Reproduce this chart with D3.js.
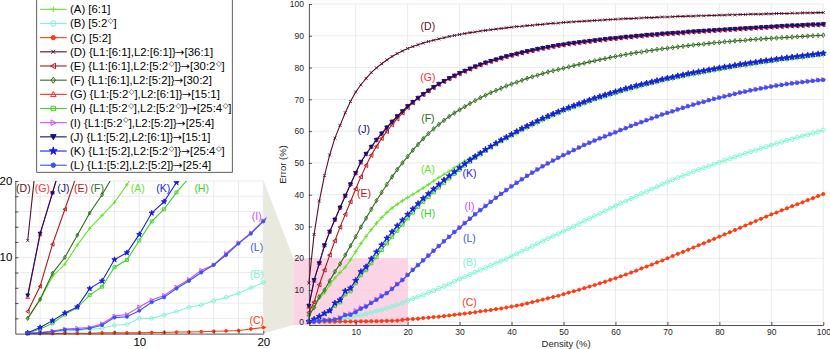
<!DOCTYPE html>
<html><head><meta charset="utf-8">
<script src="https://cdn.jsdelivr.net/npm/d3@7"></script>
<style>body{margin:0;background:#fff}svg{display:block}text{font-family:"Liberation Sans",Arial,Helvetica,sans-serif}</style>
</head><body><svg id="c" width="830" height="349"></svg>
<script>
// ---------- data ----------
const density = d3.range(1, 101);
const xTicksMain = [10,20,30,40,50,60,70,80,90,100];
const yTicksMain = [0,10,20,30,40,50,60,70,80,90,100];
const insetTicks = [2,4,6,8,10,12,14,16,18,20];
const insetTickLabels = [10,20];

const valsA = [2.0,4.4,7.5,9.1,11.6,13.8,15.5,17.2,19.5,22.1,24.6,26.9,29.0,31.0,32.8,34.4,35.8,37.0,38.1,39.1,
40.1,41.1,42.1,43.2,44.3,45.4,46.4,47.4,48.5,49.6,50.6,51.5,52.4,53.3,54.1,55.0,55.8,56.7,57.5,58.4,
59.2,60.1,60.9,61.7,62.5,63.3,64.0,64.7,65.4,66.1,66.7,67.3,67.9,68.5,69.1,69.7,70.2,70.7,71.2,71.7,
72.2,72.7,73.1,73.6,74.0,74.4,74.8,75.2,75.6,76.0,76.3,76.7,77.0,77.4,77.7,78.0,78.3,78.6,78.9,79.2,
79.5,79.7,80.0,80.3,80.5,80.8,81.0,81.3,81.5,81.7,82.0,82.2,82.4,82.6,82.8,83.0,83.2,83.4,83.6,83.8];
const valsB = [0.0,0.1,0.2,0.3,0.4,0.55,0.7,1.1,1.2,2.0,2.0,2.45,2.9,3.45,3.75,4.3,4.75,5.3,6.0,6.7,
7.3,7.9,8.5,9.2,9.8,10.5,11.2,11.9,12.7,13.5,14.2,14.9,15.6,16.3,17.0,17.7,18.4,19.1,19.8,20.6,
21.4,22.2,23.0,23.8,24.6,25.4,26.2,27.0,27.7,28.5,29.3,30.1,30.9,31.7,32.5,33.3,34.1,34.9,35.7,36.5,
37.3,38.0,38.8,39.5,40.3,41.0,41.8,42.5,43.3,44.0,44.7,45.3,46.0,46.6,47.3,47.9,48.5,49.0,49.6,50.2,
50.8,51.3,51.9,52.4,53.0,53.5,54.0,54.6,55.1,55.6,56.1,56.6,57.1,57.5,58.0,58.5,58.9,59.4,59.8,60.3];
const valsC = [0.0,0.0,0.0,0.05,0.05,0.05,0.1,0.1,0.1,0.1,0.15,0.15,0.2,0.2,0.25,0.3,0.35,0.4,0.6,0.8,
0.9,1.0,1.2,1.3,1.5,1.6,1.8,2.0,2.2,2.4,2.6,2.8,3.0,3.3,3.5,3.7,4.0,4.2,4.5,4.8,
5.1,5.4,5.8,6.2,6.6,7.0,7.4,7.8,8.2,8.7,9.2,9.6,10.1,10.6,11.1,11.6,12.1,12.6,13.2,13.7,
14.3,14.9,15.5,16.1,16.8,17.4,18.0,18.7,19.3,20.0,20.7,21.4,22.0,22.7,23.4,24.1,24.7,25.4,26.1,26.8,
27.5,28.2,28.9,29.6,30.3,31.0,31.7,32.4,33.1,33.8,34.4,35.1,35.7,36.4,37.0,37.6,38.3,38.9,39.6,40.2];
const valsD = [12.2,27.5,38.0,46.0,52.5,57.8,61.8,65.8,69.3,72.3,74.6,76.6,78.4,79.9,81.2,82.4,83.5,84.4,85.2,86.0,
86.6,87.2,87.7,88.2,88.6,89.0,89.4,89.8,90.1,90.4,90.7,91.0,91.2,91.5,91.7,91.9,92.1,92.3,92.5,92.7,
92.9,93.0,93.2,93.3,93.5,93.6,93.8,93.9,94.0,94.2,94.3,94.4,94.5,94.6,94.7,94.8,94.9,95.0,95.1,95.2,
95.3,95.4,95.4,95.5,95.6,95.7,95.7,95.8,95.9,95.9,96.0,96.1,96.1,96.2,96.2,96.3,96.3,96.4,96.4,96.5,
96.5,96.6,96.6,96.7,96.7,96.8,96.8,96.8,96.9,96.9,97.0,97.0,97.0,97.1,97.1,97.2,97.2,97.2,97.3,97.3];
const valsE = [2.9,6.2,11.7,16.3,21.0,25.5,29.8,33.8,37.8,41.8,45.6,49.2,52.4,55.2,57.7,59.9,62.0,63.9,65.7,67.4,
68.9,70.3,71.5,72.6,73.7,74.7,75.6,76.5,77.3,78.1,78.8,79.5,80.2,80.8,81.4,81.9,82.4,82.9,83.4,83.8,
84.2,84.6,85.0,85.3,85.7,86.0,86.3,86.6,86.9,87.1,87.4,87.6,87.8,88.0,88.2,88.4,88.6,88.8,89.0,89.1,
89.3,89.5,89.6,89.8,89.9,90.1,90.2,90.3,90.5,90.6,90.7,90.8,90.9,91.1,91.2,91.3,91.4,91.5,91.6,91.7,
91.8,91.9,92.0,92.1,92.2,92.3,92.4,92.5,92.6,92.7,92.8,92.9,93.0,93.1,93.1,93.2,93.3,93.4,93.4,93.5];
const valsF = [2.0,4.5,7.9,10.0,12.9,15.8,18.2,21.0,23.9,26.8,29.8,32.6,35.4,38.1,40.7,43.2,45.6,47.9,50.0,52.0,
54.0,55.8,57.6,59.2,60.7,62.1,63.4,64.6,65.7,66.7,67.7,68.7,69.6,70.5,71.3,72.1,72.8,73.5,74.2,74.8,
75.4,76.0,76.6,77.1,77.6,78.1,78.6,79.0,79.4,79.8,80.2,80.6,81.0,81.4,81.8,82.1,82.5,82.8,83.2,83.5,
83.8,84.1,84.4,84.7,84.9,85.2,85.4,85.7,85.9,86.1,86.3,86.5,86.7,86.9,87.1,87.3,87.4,87.6,87.8,87.9,
88.1,88.2,88.4,88.5,88.6,88.8,88.9,89.0,89.1,89.2,89.3,89.4,89.5,89.6,89.7,89.8,89.9,90.0,90.1,90.2];
const valsG = [4.8,13.0,18.5,24.1,28.4,32.2,36.0,39.7,43.3,46.8,50.2,52.8,55.1,57.3,59.3,61.2,63.0,64.7,66.3,67.9,
69.2,70.5,71.7,72.8,73.9,74.9,75.8,76.7,77.5,78.3,79.0,79.7,80.4,81.0,81.6,82.1,82.6,83.1,83.6,84.0,
84.4,84.8,85.2,85.5,85.9,86.2,86.5,86.8,87.1,87.3,87.6,87.8,88.0,88.2,88.4,88.6,88.8,89.0,89.2,89.3,
89.5,89.7,89.8,90.0,90.1,90.3,90.4,90.5,90.7,90.8,90.9,91.0,91.1,91.3,91.4,91.5,91.6,91.7,91.8,91.9,
92.0,92.1,92.2,92.3,92.4,92.5,92.6,92.7,92.8,92.9,93.0,93.1,93.2,93.3,93.3,93.4,93.5,93.6,93.6,93.7];
const valsH = [0.05,0.6,1.35,2.5,3.4,5.05,6.15,8.7,9.65,12.2,14.7,16.3,18.5,20.4,22.6,24.7,26.8,28.7,30.6,32.6,
34.4,36.2,37.8,39.3,40.8,42.3,43.7,45.2,46.6,47.9,49.2,50.4,51.6,52.7,53.8,54.9,55.9,56.9,57.9,58.8,
59.8,60.7,61.5,62.3,63.1,63.9,64.6,65.3,66.0,66.7,67.3,67.9,68.5,69.1,69.7,70.3,70.8,71.3,71.8,72.3,
72.8,73.3,73.7,74.2,74.6,75.0,75.4,75.8,76.2,76.6,76.9,77.3,77.6,78.0,78.3,78.6,78.9,79.2,79.5,79.8,
80.1,80.3,80.6,80.9,81.1,81.4,81.6,81.9,82.1,82.3,82.6,82.8,83.0,83.2,83.4,83.6,83.8,84.0,84.2,84.4];
const valsI = [0.05,0.15,0.35,0.6,0.7,0.8,1.3,2.3,2.5,3.5,4.4,5.0,6.1,7.1,8.3,9.0,10.5,11.9,13.2,14.8,
16.4,17.9,19.4,20.9,22.4,23.9,25.4,26.8,28.3,29.7,31.1,32.5,33.9,35.2,36.5,37.8,39.1,40.3,41.5,42.7,
43.8,44.9,46.0,47.0,48.0,49.0,49.9,50.8,51.7,52.5,53.3,54.1,54.9,55.7,56.4,57.1,57.8,58.4,59.1,59.7,
60.4,61.0,61.7,62.3,62.9,63.5,64.1,64.7,65.3,65.8,66.3,66.9,67.4,67.9,68.4,68.9,69.3,69.8,70.2,70.6,
71.0,71.4,71.8,72.2,72.5,72.9,73.2,73.5,73.8,74.1,74.4,74.6,74.9,75.1,75.3,75.5,75.7,75.9,76.1,76.2];
const valsJ = [5.0,13.1,18.4,24.0,28.3,32.1,35.9,39.6,43.2,46.8,50.3,52.8,55.0,57.2,59.2,61.1,62.9,64.6,66.2,67.8,
69.1,70.4,71.6,72.7,73.8,74.8,75.7,76.6,77.4,78.2,78.9,79.6,80.3,80.9,81.5,82.0,82.5,83.0,83.5,83.9,
84.3,84.7,85.1,85.4,85.8,86.1,86.4,86.7,87.0,87.2,87.5,87.7,87.9,88.1,88.3,88.5,88.7,88.9,89.1,89.2,
89.4,89.6,89.7,89.9,90.0,90.2,90.3,90.4,90.6,90.7,90.8,90.9,91.0,91.2,91.3,91.4,91.5,91.6,91.7,91.8,
91.9,92.0,92.1,92.2,92.3,92.4,92.5,92.6,92.7,92.8,92.9,93.0,93.1,93.2,93.2,93.3,93.4,93.5,93.5,93.6];
const valsK = [0.1,0.8,1.7,2.7,3.5,5.9,6.9,9.7,10.6,13.0,15.8,17.3,19.8,22.0,24.2,26.3,28.3,30.2,32.0,33.8,
35.5,37.2,38.8,40.3,41.8,43.2,44.6,45.9,47.2,48.5,49.7,50.9,52.0,53.1,54.2,55.2,56.2,57.2,58.1,59.0,
59.9,60.8,61.6,62.4,63.2,64.0,64.7,65.4,66.1,66.8,67.4,68.0,68.6,69.2,69.8,70.4,70.9,71.4,71.9,72.4,
72.9,73.4,73.8,74.3,74.7,75.1,75.5,75.9,76.3,76.7,77.0,77.4,77.7,78.1,78.4,78.7,79.0,79.3,79.6,79.9,
80.2,80.4,80.7,81.0,81.2,81.5,81.7,82.0,82.2,82.4,82.7,82.9,83.1,83.3,83.5,83.7,83.9,84.1,84.3,84.5];
const valsL = [0.05,0.1,0.25,0.5,0.5,0.7,1.1,2.1,2.2,3.0,4.1,4.75,5.9,6.9,8.0,9.0,10.3,11.8,13.1,14.7,
16.3,17.8,19.3,20.8,22.3,23.8,25.3,26.7,28.2,29.6,31.0,32.4,33.8,35.1,36.4,37.7,39.0,40.2,41.4,42.6,
43.7,44.8,45.9,46.9,47.9,48.9,49.8,50.7,51.6,52.4,53.2,54.0,54.8,55.6,56.3,57.0,57.7,58.3,59.0,59.6,
60.3,60.9,61.6,62.2,62.8,63.4,64.0,64.6,65.2,65.7,66.2,66.8,67.3,67.8,68.3,68.8,69.2,69.7,70.1,70.5,
70.9,71.3,71.7,72.1,72.4,72.8,73.1,73.4,73.7,74.0,74.3,74.5,74.8,75.0,75.2,75.4,75.6,75.8,76.0,76.1];

const seriesKeys = ["A","B","C","D","E","F","G","H","I","J","K","L"];
const seriesVals = [valsA,valsB,valsC,valsD,valsE,valsF,valsG,valsH,valsI,valsJ,valsK,valsL];
const seriesColors = ["#66e22e","#7ff5d6","#ff3a10","#5b0f22","#b3171c","#2f6b1c","#ff2b2b","#3cd41e","#c84cff","#111177","#1a1af0","#3a52f0"];
const seriesMarkers = ["plus","circle","dot","x","tleft","diamond","tup","square","tright","tdown","star","fcircle"];
const legendLabels = [
 "(A) [6:1]",
 "(B) [5:2◇]",
 "(C) [5:2]",
 "(D) {L1:[6:1],L2:[6:1]}→[36:1]",
 "(E) {L1:[6:1],L2:[5:2◇]}→[30:2◇]",
 "(F) {L1:[6:1],L2:[5:2]}→[30:2]",
 "(G) {L1:[5:2◇],L2:[6:1]}→[15:1]",
 "(H) {L1:[5:2◇],L2:[5:2◇]}→[25:4◇]",
 "(I) {L1:[5:2◇],L2:[5:2]}→[25:4]",
 "(J) {L1:[5:2],L2:[6:1]}→[15:1]",
 "(K) {L1:[5:2],L2:[5:2◇]}→[25:4◇]",
 "(L) {L1:[5:2],L2:[5:2]}→[25:4]"
];
// annotation anchor points (data coordinates)
const mainLabelPos = {D:[23.9,92.9],G:[23.9,77.1],J:[11.6,60.6],F:[23.9,64.0],A:[23.9,48.0],K:[31.9,46.7],
  E:[11.6,40.4],H:[23.9,34.1],I:[31.9,36.3],L:[31.9,26.2],B:[31.9,18.8],C:[31.9,6.2]};
const insetLabelPos = {D:[0.65,19.05],G:[2.18,19.05],J:[3.87,19.05],E:[5.3,19.05],F:[6.61,19.05],A:[9.87,19.1],
  K:[11.94,19.1],H:[15.03,19.1],I:[19.47,15.4],L:[19.47,11.26],B:[19.47,7.8],C:[19.47,1.7]};

// ---------- drawing ----------
const svg = d3.select("#c");
const gridCol = "#e6e6e6", axisCol = "#262626";

function markerPath(type, s){
  switch(type){
    case "plus": return `M${-s},0H${s}M0,${-s}V${s}`;
    case "x": return `M${-s},${-s}L${s},${s}M${-s},${s}L${s},${-s}`;
    case "circle": case "fcircle": case "dot": return d3.symbol(d3.symbolCircle, Math.PI*s*s)();
    case "tup": return `M0,${-s}L${s},${s*0.8}L${-s},${s*0.8}Z`;
    case "tdown": return `M0,${s}L${s},${-s*0.8}L${-s},${-s*0.8}Z`;
    case "tleft": return `M${-s},0L${s*0.8},${-s}L${s*0.8},${s}Z`;
    case "tright": return `M${s},0L${-s*0.8},${-s}L${-s*0.8},${s}Z`;
    case "diamond": return `M0,${-s*1.1}L${s*0.75},0L0,${s*1.1}L${-s*0.75},0Z`;
    case "square": return `M${-s*0.8},${-s*0.8}h${1.6*s}v${1.6*s}h${-1.6*s}Z`;
    case "star": return d3.symbol(d3.symbolStar, s*s*2.4)();
  }
}
function markerFill(type, color){
  return (type==="dot"||type==="fcircle"||type==="star"||type==="tdown") ? color : "none";
}
function markerSize(type, base){
  if (type==="x") return base*0.7;
  if (type==="dot") return base*0.75;
  if (type==="fcircle") return base*0.8;
  return base;
}

// ===== main chart =====
const xMain = d3.scaleLinear().domain([1,100]).range([308.9,823.3]);
const yMain = d3.scaleLinear().domain([-1,100]).range([325,4]);
const main = svg.append("g");
main.selectAll("line.vg").data(xTicksMain).join("line")
  .attr("x1",d=>xMain(d)).attr("x2",d=>xMain(d)).attr("y1",yMain(-1)).attr("y2",yMain(100))
  .attr("stroke",gridCol).attr("stroke-width",0.8);
main.selectAll("line.hg").data(yTicksMain).join("line")
  .attr("x1",xMain(1)).attr("x2",xMain(100)).attr("y1",d=>yMain(d)).attr("y2",d=>yMain(d))
  .attr("stroke",gridCol).attr("stroke-width",0.8);

// pink zoom region
main.append("rect").attr("x",xMain(-2)).attr("y",yMain(20))
  .attr("width",xMain(20)-xMain(-2)).attr("height",yMain(-1)-yMain(20))
  .attr("fill","#f9c6dd").attr("opacity",0.75);

const lineMain = d3.line().x((d,i)=>xMain(density[i])).y(d=>yMain(d));
seriesVals.forEach((vals,k)=>{
  const col = seriesColors[k], mk = seriesMarkers[k];
  main.append("path").attr("d",lineMain(vals)).attr("fill","none").attr("stroke",col).attr("stroke-width",1.1);
  const p = markerPath(mk, markerSize(mk,2.1));
  main.append("g").selectAll("path").data(vals).join("path")
    .attr("d",p).attr("transform",(d,i)=>`translate(${xMain(density[i])},${yMain(d)})`)
    .attr("fill",markerFill(mk,col)).attr("stroke",col).attr("stroke-width",0.9);
});

const axB = main.append("g").attr("transform",`translate(0,${yMain(-1)})`)
  .call(d3.axisBottom(xMain).tickValues(xTicksMain).tickSizeInner(-3).tickSizeOuter(0).tickPadding(4));
const axL = main.append("g").attr("transform",`translate(${xMain(1)},0)`)
  .call(d3.axisLeft(yMain).tickValues(yTicksMain).tickSizeInner(-3).tickSizeOuter(0).tickPadding(5));
[axB,axL].forEach(a=>{
  a.select(".domain").attr("stroke",axisCol).attr("stroke-width",0.8);
  a.selectAll(".tick line").attr("stroke",axisCol).attr("stroke-width",0.8);
  a.selectAll(".tick text").attr("fill",axisCol).style("font-size","8.5px").style("font-family","'Liberation Sans',Arial,sans-serif");
});
main.append("text").attr("x",(xMain(1)+xMain(100))/2).attr("y",346.5).attr("text-anchor","middle")
  .attr("fill",axisCol).style("font-size","9.5px").text("Density (%)");
main.append("text").attr("transform",`translate(286,${(yMain(-1)+yMain(100))/2}) rotate(-90)`)
  .attr("text-anchor","middle").attr("fill",axisCol).style("font-size","9.5px").text("Error (%)");

seriesKeys.forEach((key,k)=>{
  const pos = mainLabelPos[key];
  main.append("text").attr("x",xMain(pos[0])).attr("y",yMain(pos[1])).attr("dy","0.36em")
    .attr("text-anchor","middle").attr("fill",seriesColors[k]).style("font-size","10.5px").text(`(${key})`);
});

// ===== inset =====
const xIn = d3.scaleLinear().domain([0,20]).range([15.3,263.3]);
const yIn = d3.scaleLinear().domain([0,20]).range([333.6,181]);

// connector (trapezoid) from inset to zoom region
svg.insert("path","g").attr("d",
  `M${xIn(20)},${yIn(20)-1}L${xMain(-2)},${yMain(20)}L${xMain(-2)},${yMain(-1)}L${xIn(20)},${yIn(0)}Z`)
  .attr("fill","#e9e9de");

const inset = svg.append("g");
inset.append("rect").attr("x",xIn(0)).attr("y",yIn(20)).attr("width",xIn(20)-xIn(0)).attr("height",yIn(0)-yIn(20)).attr("fill","#fff");
inset.selectAll("line.vg").data(insetTicks).join("line")
  .attr("x1",d=>xIn(d)).attr("x2",d=>xIn(d)).attr("y1",yIn(0)).attr("y2",yIn(20))
  .attr("stroke",gridCol).attr("stroke-width",0.8);
inset.selectAll("line.hg").data(insetTicks).join("line")
  .attr("x1",xIn(0)).attr("x2",xIn(20)).attr("y1",d=>yIn(d)).attr("y2",d=>yIn(d))
  .attr("stroke",gridCol).attr("stroke-width",0.8);
svg.append("clipPath").attr("id","inclip").append("rect")
  .attr("x",xIn(0)).attr("y",yIn(20)).attr("width",xIn(20)-xIn(0)+3).attr("height",yIn(0)-yIn(20)+3);
const inPlot = inset.append("g").attr("clip-path","url(#inclip)");
const lineIn = d3.line().x((d,i)=>xIn(density[i])).y(d=>yIn(d));
seriesVals.forEach((vals,k)=>{
  const col = seriesColors[k], mk = seriesMarkers[k];
  const sub = vals.slice(0,21);
  inPlot.append("path").attr("d",lineIn(sub)).attr("fill","none").attr("stroke",col).attr("stroke-width",1.1);
  const p = markerPath(mk, markerSize(mk,1.9));
  inPlot.append("g").selectAll("path").data(sub.map((v,i)=>[density[i],v]).filter(d=>d[1]<=20 && d[0]<=20)).join("path")
    .attr("d",p).attr("transform",d=>`translate(${xIn(d[0])},${yIn(d[1])})`)
    .attr("fill",markerFill(mk,col)).attr("stroke",col).attr("stroke-width",0.9);
});
const iaB = inset.append("g").attr("transform",`translate(0,${yIn(0)})`)
  .call(d3.axisBottom(xIn).tickValues(insetTicks).tickSizeInner(-3).tickSizeOuter(0).tickPadding(4)
    .tickFormat(d=>insetTickLabels.includes(d)?d:""));
const iaL = inset.append("g").attr("transform",`translate(${xIn(0)},0)`)
  .call(d3.axisLeft(yIn).tickValues(insetTicks).tickSizeInner(-3).tickSizeOuter(0).tickPadding(3)
    .tickFormat(d=>insetTickLabels.includes(d)?d:""));
[iaB,iaL].forEach(a=>{
  a.select(".domain").attr("stroke",axisCol).attr("stroke-width",0.8);
  a.selectAll(".tick line").attr("stroke",axisCol).attr("stroke-width",0.8);
  a.selectAll(".tick text").attr("fill","#000").style("font-size","11.5px").style("font-family","'Liberation Sans',Arial,sans-serif");
});
seriesKeys.forEach((key,k)=>{
  const pos = insetLabelPos[key];
  inset.append("text").attr("x",xIn(pos[0])).attr("y",yIn(pos[1])).attr("dy","0.36em")
    .attr("text-anchor","middle").attr("fill",seriesColors[k]).style("font-size","10.5px").text(`(${key})`);
});

// ===== legend =====
const leg = svg.append("g");
leg.append("rect").attr("x",36.7).attr("y",-0.5).attr("width",195.6).attr("height",172.8)
  .attr("fill","#fff").attr("stroke","#3a3a3a").attr("stroke-width",0.8);
const rowY = d3.scaleLinear().domain([0,11]).range([9.3,165.2]);
seriesKeys.forEach((key,k)=>{
  const y = rowY(k), col = seriesColors[k], mk = seriesMarkers[k];
  leg.append("line").attr("x1",40).attr("x2",66.7).attr("y1",y).attr("y2",y).attr("stroke",col).attr("stroke-width",1.1);
  leg.append("path").attr("d",markerPath(mk, markerSize(mk,2.8))).attr("transform",`translate(53.3,${y})`)
    .attr("fill",markerFill(mk,col)).attr("stroke",col).attr("stroke-width",1);
  const t = leg.append("text").attr("x",70).attr("y",y+3.9).attr("fill","#000").style("font-size","11.4px");
  // split into plain text, superscript diamonds and the arrow
  const tokens = legendLabels[k].split(/(◇|→)/).filter(s=>s.length);
  let raised = false;
  tokens.forEach(tok=>{
    if (tok === "◇"){
      t.append("tspan").attr("dy", -4.2).attr("dx", 0.5).style("font-size","7.3px")
        .style("font-family","'DejaVu Sans',sans-serif").text("◇");
      raised = true;
    } else {
      const ts = t.append("tspan").text(tok);
      if (tok === "→") ts.style("font-family","'DejaVu Sans',sans-serif").style("font-size","10.5px");
      if (raised){ ts.attr("dy", 4.2); raised = false; }
    }
  });
});
</script></body></html>
